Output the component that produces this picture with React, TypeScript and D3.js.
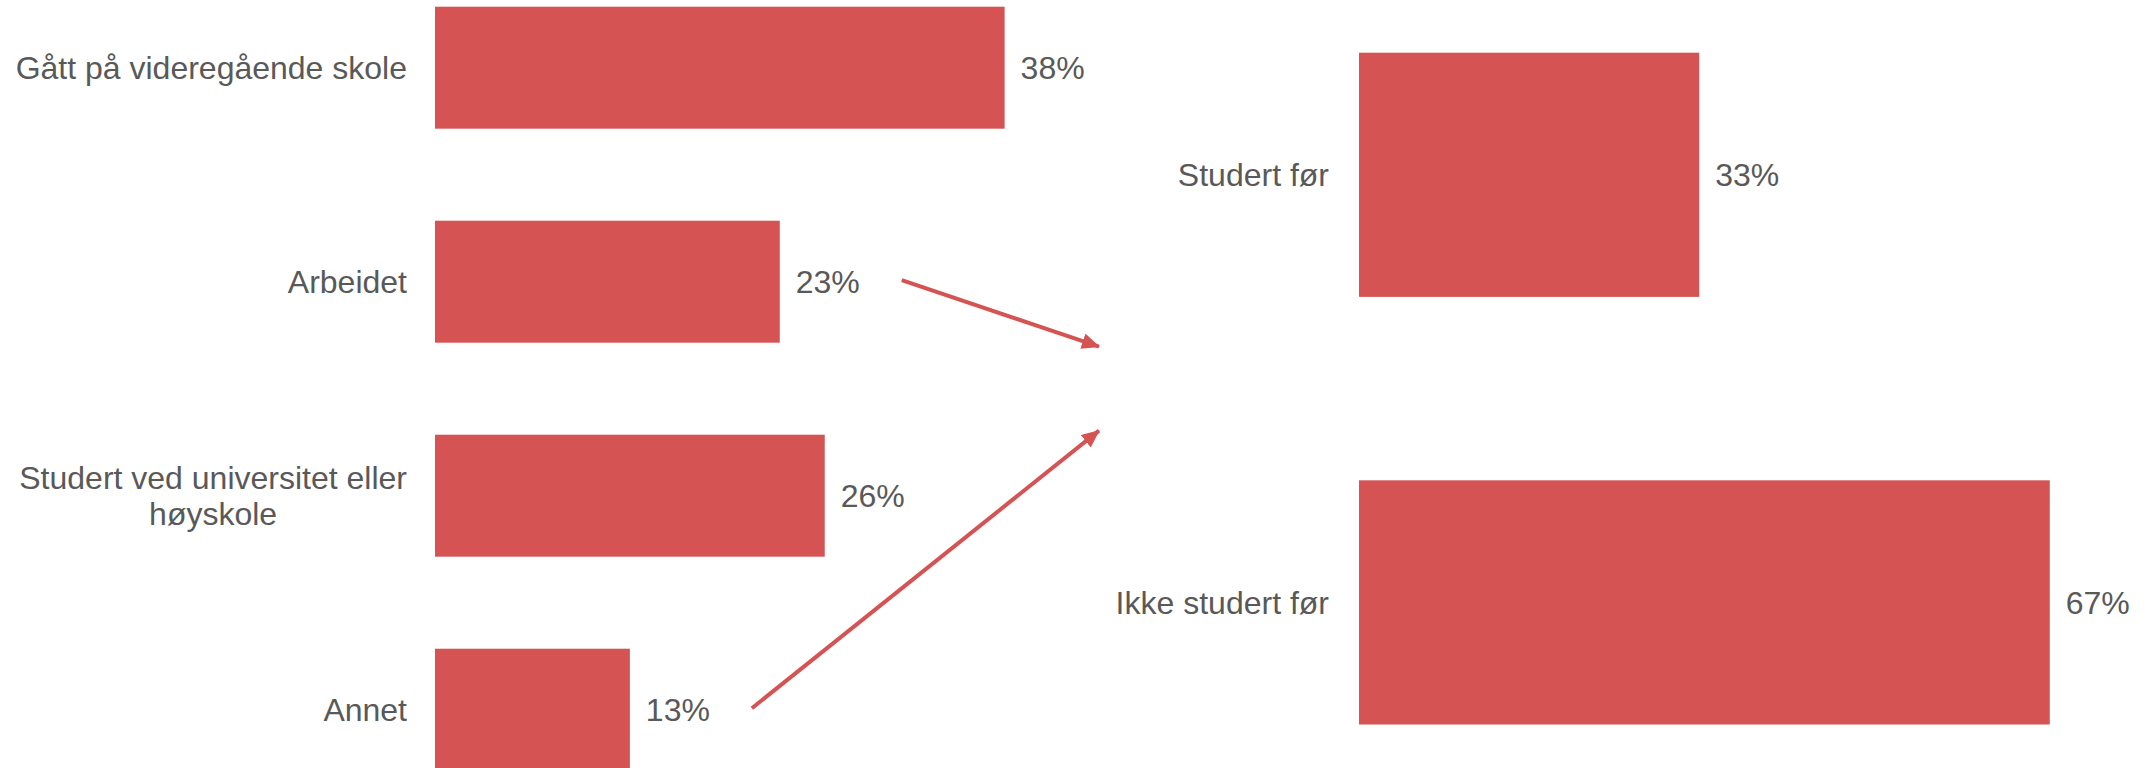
import React, { useEffect, useRef } from "react";
import * as d3 from "d3";

const leftCategories = [
  "Gått på videregående skole",
  "Arbeidet",
  "Studert ved universitet eller\nhøyskole",
  "Annet",
];
const leftValues = [38, 23, 26, 13];

const rightCategories = ["Studert før", "Ikke studert før"];
const rightValues = [33, 67];

// arrows: from left category (index) to the gap between the right bars
const arrowFrom = [1, 3];

const W = 2152;
const H = 768;
const RED = "#D55353";
const TEXT = "#595959";
const FONT = "'Liberation Sans', Arial, Helvetica, sans-serif";
const FS = 32;

export default function App() {
  const ref = useRef<SVGSVGElement | null>(null);

  useEffect(() => {
    const svg = d3.select(ref.current);
    svg.selectAll("*").remove();

    const defs = svg.append("defs");
    defs
      .append("marker")
      .attr("id", "ah")
      .attr("markerUnits", "userSpaceOnUse")
      .attr("viewBox", "0 0 18 16")
      .attr("refX", 17)
      .attr("refY", 8)
      .attr("markerWidth", 18)
      .attr("markerHeight", 16)
      .attr("orient", "auto")
      .append("path")
      .attr("d", "M0,0 L18,8 L0,16 Z")
      .attr("fill", RED);

    // left panel
    const yL = d3
      .scaleBand<string>()
      .domain(leftCategories)
      .range([6.7, 770.7])
      .paddingInner(0.43)
      .paddingOuter(0);
    const xL = d3.scaleLinear().domain([0, 100]).range([435, 1934]);

    // right panel
    const yR = d3
      .scaleBand<string>()
      .domain(rightCategories)
      .range([52.7, 724.5])
      .paddingInner(0.429)
      .paddingOuter(0);
    const xR = d3.scaleLinear().domain([0, 100]).range([1359, 2390]);

    const drawPanel = (
      cats: string[],
      vals: number[],
      y: d3.ScaleBand<string>,
      x: d3.ScaleLinear<number, number>,
      gap: number
    ) => {
      const g = svg.append("g");
      g.selectAll("rect")
        .data(cats)
        .join("rect")
        .attr("x", x(0))
        .attr("y", (d) => y(d)!)
        .attr("width", (_d, i) => x(vals[i]) - x(0))
        .attr("height", y.bandwidth())
        .attr("fill", RED);

      g.selectAll("text.val")
        .data(cats)
        .join("text")
        .attr("class", "val")
        .attr("x", (_d, i) => x(vals[i]) + 16)
        .attr("y", (d) => y(d)! + y.bandwidth() / 2)
        .attr("dy", "0.35em")
        .attr("font-family", FONT)
        .attr("font-size", FS)
        .attr("fill", TEXT)
        .text((_d, i) => `${vals[i]}%`);

      cats.forEach((c) => {
        const lines = c.split("\n");
        const cy = y(c)! + y.bandwidth() / 2;
        const lh = 36;
        const right = x(0) - gap;
        const t = g
          .append("text")
          .attr("font-family", FONT)
          .attr("font-size", FS)
          .attr("fill", TEXT);
        lines.forEach((ln, i) => {
          t.append("tspan")
            .attr("x", right)
            .attr("y", cy + (i - (lines.length - 1) / 2) * lh)
            .attr("dy", "0.35em")
            .attr("text-anchor", "end")
            .text(ln);
        });
        if (lines.length > 1) {
          const tspans = t.selectAll<SVGTSpanElement, unknown>("tspan").nodes();
          const widths = tspans.map((n) => n.getComputedTextLength());
          const maxW = Math.max(...widths);
          const center = right - maxW / 2;
          t.selectAll("tspan").attr("x", center).attr("text-anchor", "middle");
        }
      });
      return g;
    };

    drawPanel(leftCategories, leftValues, yL, xL, 28);
    drawPanel(rightCategories, rightValues, yR, xR, 30);

    // arrows
    const gapTop = yR(rightCategories[0])! + yR.bandwidth();
    const gapBot = yR(rightCategories[1])!;
    const gapMid = (gapTop + gapBot) / 2;
    const endX = xR(0) - 260;
    arrowFrom.forEach((idx, k) => {
      const c = leftCategories[idx];
      const sx = xL(leftValues[idx]) + 16 + 64 + 42;
      const sy = yL(c)! + yL.bandwidth() / 2 - 1.5;
      const ey = k === 0 ? gapMid - 42 : gapMid + 42;
      svg
        .append("line")
        .attr("x1", sx)
        .attr("y1", sy)
        .attr("x2", endX)
        .attr("y2", ey)
        .attr("stroke", RED)
        .attr("stroke-width", 4)
        .attr("marker-end", "url(#ah)");
    });
  }, []);

  return (
    <svg
      ref={ref}
      width={W}
      height={H}
      style={{ position: "absolute", left: 0, top: 0, background: "#fff" }}
    />
  );
}
